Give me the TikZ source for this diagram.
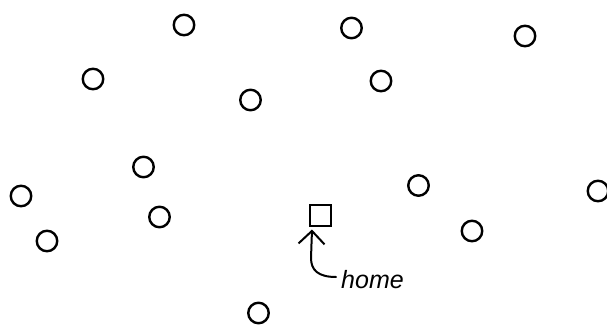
\documentclass[tikz,border=0pt]{standalone}
\usepackage{fontspec}
\setmainfont{Liberation Sans}
\usetikzlibrary{arrows.meta}
\begin{document}
\begin{tikzpicture}[x=1pt,y=-1pt,
  site/.style={draw,circle,line width=2.4pt,minimum size=20.5pt,inner sep=0pt},
  homebox/.style={draw,rectangle,line width=2pt,minimum size=21pt,inner sep=0pt},
  pointer/.style={line width=2pt,line cap=round,-{Straight Barb[length=13pt,width=26pt,line width=2pt]}},
  lab/.style={font=\fontsize{25}{28}\selectfont\itshape,inner sep=0pt}]
\useasboundingbox (0,0) rectangle (607,329);
\node[site] (c1) at (184,25) {};
\node[site] (c2) at (351.5,28) {};
\node[site] (c3) at (525,36) {};
\node[site] (c4) at (93,79) {};
\node[site] (c5) at (381,81) {};
\node[site] (c6) at (250.5,100) {};
\node[site] (c7) at (143.5,167) {};
\node[site] (c8) at (21,196) {};
\node[site] (c9) at (418.5,185.5) {};
\node[site] (c10) at (598,191) {};
\node[site] (c11) at (159.5,217) {};
\node[site] (c12) at (47,241) {};
\node[site] (c13) at (472,231) {};
\node[site] (c14) at (258.5,313) {};
\node[homebox] (sq) at (320,215) {};
\coordinate (tail) at (336,277);
\draw[pointer] (tail) .. controls (318,277) and (311,270) .. (311,258) -- ([xshift=-8pt,yshift=-3pt]sq.south);
\node[lab,anchor=base west] (home) at (341,288) {home};
\end{tikzpicture}
\end{document}
